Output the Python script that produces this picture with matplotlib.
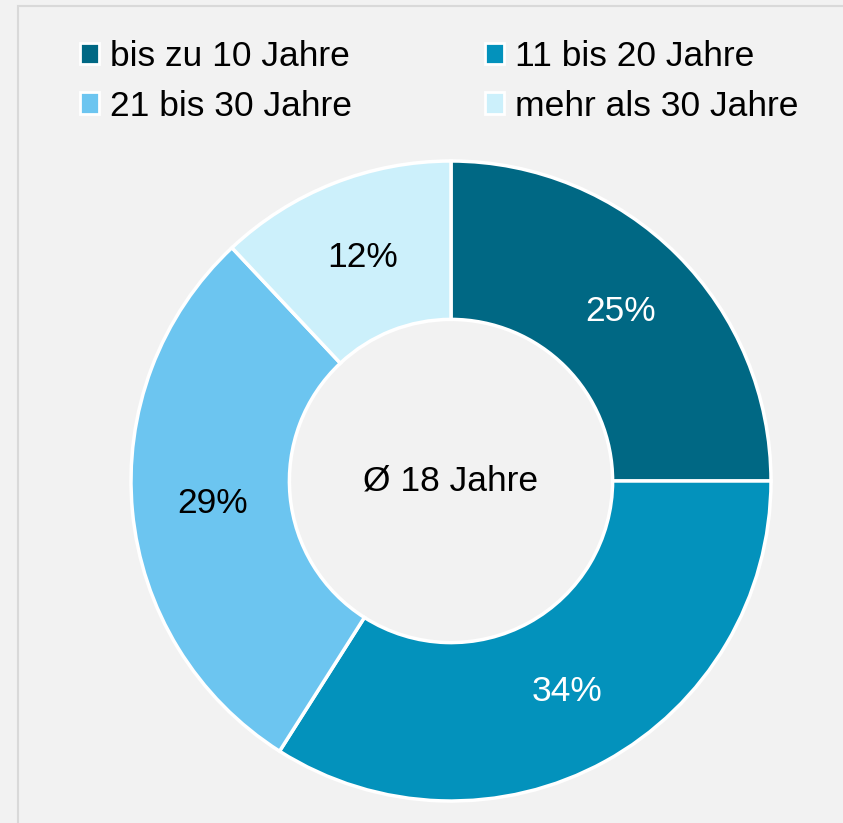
import matplotlib.pyplot as plt
from matplotlib.patches import Patch, Rectangle

categories = ["bis zu 10 Jahre", "11 bis 20 Jahre", "21 bis 30 Jahre", "mehr als 30 Jahre"]
shares = [25, 34, 29, 12]
colors = ["#006884", "#0392bc", "#6cc5f0", "#ccf0fb"]
label_colors = ["white", "white", "black", "black"]
center_text = "Ø 18 Jahre"

plt.rcParams['font.family'] = ['Liberation Sans', 'DejaVu Sans']

W, H = 843, 823
fig = plt.figure(figsize=(W / 100, H / 100), dpi=100, facecolor="#f2f2f2")

# frame line at left/top (chart area border)
fig.patches.append(Rectangle((18 / W, -0.1), 1.2, (H - 6) / H + 0.1,
                             transform=fig.transFigure, fill=False,
                             edgecolor="#d9d9d9", linewidth=1.5))

cx, cy, r = 451, 481, 320
ax = fig.add_axes([(cx - r) / W, (H - cy - r) / H, 2 * r / W, 2 * r / H])
ax.set_facecolor("none")

wedges, texts, autotexts = ax.pie(
    shares, colors=colors, startangle=90, counterclock=False, radius=1,
    autopct="%d%%", pctdistance=0.75,
    wedgeprops=dict(width=0.495, edgecolor="white", linewidth=2.5),
    textprops=dict(fontsize=25.5))
for t, c in zip(autotexts, label_colors):
    t.set_color(c)
ax.text(0, 0, center_text, ha="center", va="center", fontsize=25.5)
ax.set_xlim(-1, 1)
ax.set_ylim(-1, 1)
ax.set_aspect("equal")
ax.axis("off")

# legend is filled row by row in the reference
order = [0, 2, 1, 3]
handles = [Patch(facecolor=colors[i], edgecolor="white", linewidth=2) for i in order]
fig.legend(handles, [categories[i] for i in order], ncol=2, loc="upper left",
           bbox_to_anchor=(48 / W, 1 - 8 / H), frameon=False, fontsize=25.5,
           handlelength=0.55, handleheight=0.55, handletextpad=0.3,
           columnspacing=3.75, labelspacing=0.47)

fig.savefig("out.png", dpi=100, facecolor=fig.get_facecolor())
